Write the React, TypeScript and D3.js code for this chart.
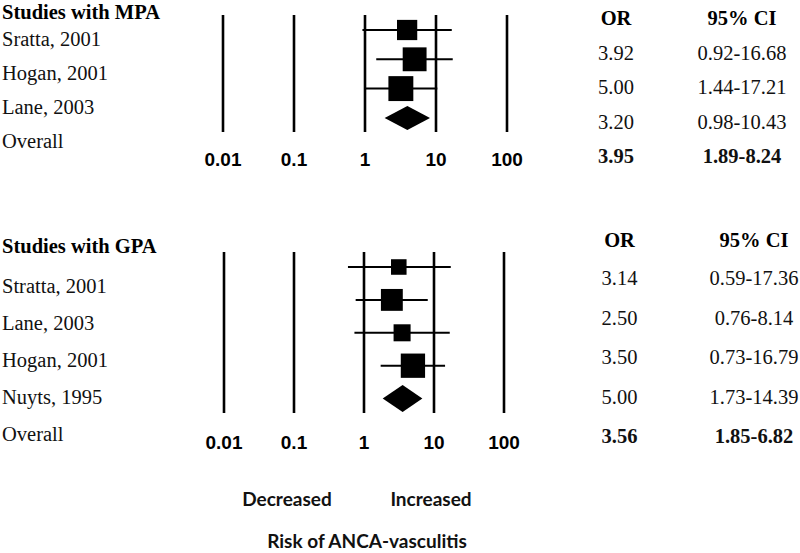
import { scaleLog, scaleSqrt, range } from "d3";

// MPA studies
const mpaStudies = ["Sratta, 2001", "Hogan, 2001", "Lane, 2003"];
const mpaOR = [3.92, 5.0, 3.2];
const mpaLow = [0.92, 1.44, 0.98];
const mpaHigh = [16.68, 17.21, 10.43];
const mpaWeight = [25.6, 35.6, 38.8];
// the table column on the right
const mpaTableOR = ["3.92", "5.00", "3.20"];
const mpaTableCI = ["0.92-16.68", "1.44-17.21", "0.98-10.43"];

// GPA studies
const gpaStudies = ["Stratta, 2001", "Lane, 2003", "Hogan, 2001", "Nuyts, 1995"];
const gpaOR = [3.14, 2.5, 3.5, 5.0];
const gpaLow = [0.59, 0.76, 0.73, 1.73];
const gpaHigh = [17.36, 8.14, 16.79, 14.39];
const gpaWeight = [15.1, 29.9, 18.1, 36.9];
const gpaTableOR = ["3.14", "2.50", "3.50", "5.00"];
const gpaTableCI = ["0.59-17.36", "0.76-8.14", "0.73-16.79", "1.73-14.39"];

// pooled estimates [MPA, GPA]
const overallOR = [3.95, 3.56];
const overallLow = [1.89, 1.85];
const overallHigh = [8.24, 6.82];
const overallText = ["3.95", "3.56"];
const overallCIText = ["1.89-8.24", "1.85-6.82"];

const tickValues = [0.01, 0.1, 1, 10, 100];
const tickLabels = ["0.01", "0.1", "1", "10", "100"];

const serif = "'Liberation Serif', 'Times New Roman', serif";
const sans = "'Liberation Sans', Arial, sans-serif";
const calibriLike = "Lato, 'Open Sans', sans-serif";

const boxSize = scaleSqrt().domain([0, 100]).range([0, 40]);

interface PanelProps {
  title: string;
  studies: string[];
  or: number[];
  low: number[];
  high: number[];
  weight: number[];
  tableOR: string[];
  tableCI: string[];
  idx: number;
  xRange: [number, number];
  lineTop: number;
  lineBottom: number;
  rowTop: number;
  rowStep: number;
  titleY: number;
  labelTop: number;
  labelStep: number;
  headY: number;
  tableTop: number;
  tableStep: number;
  orX: number;
  ciX: number;
  tickY: number;
  diamondH: number;
}

function Panel(p: PanelProps) {
  const x = scaleLog().domain([0.01, 100]).range(p.xRange);
  const n = p.studies.length;
  const rowY = (i: number) => p.rowTop + i * p.rowStep;
  const dY = rowY(n);
  const o = p.idx;
  const diamond = [
    [x(overallLow[o]), dY],
    [x(overallOR[o]), dY - p.diamondH / 2],
    [x(overallHigh[o]), dY],
    [x(overallOR[o]), dY + p.diamondH / 2]
  ]
    .map((d) => d.join(","))
    .join(" ");

  return (
    <g>
      {/* left labels */}
      <text x={2} y={p.titleY} fontFamily={serif} fontWeight="bold" fontSize={20.5}>
        {p.title}
      </text>
      {[...p.studies, "Overall"].map((s, i) => (
        <text key={s} x={2} y={p.labelTop + i * p.labelStep} fontFamily={serif} fontSize={20.5} fill="#111">
          {s}
        </text>
      ))}

      {/* reference lines */}
      {tickValues.map((t, i) => (
        <g key={t}>
          <line x1={x(t)} x2={x(t)} y1={p.lineTop} y2={p.lineBottom} stroke="#000" strokeWidth={2.6} />
          <text
            x={x(t)}
            y={p.tickY}
            textAnchor="middle"
            fontFamily={sans}
            fontWeight="bold"
            fontSize={19}
          >
            {tickLabels[i]}
          </text>
        </g>
      ))}

      {/* studies */}
      {range(n).map((i) => {
        const s = boxSize(p.weight[i]);
        return (
          <g key={i}>
            <line x1={x(p.low[i])} x2={x(p.high[i])} y1={rowY(i)} y2={rowY(i)} stroke="#000" strokeWidth={2} />
            <rect x={x(p.or[i]) - s / 2} y={rowY(i) - s / 2} width={s} height={s} fill="#000" />
          </g>
        );
      })}
      <polygon points={diamond} fill="#000" />

      {/* table */}
      <text x={p.orX} y={p.headY} textAnchor="middle" fontFamily={serif} fontWeight="bold" fontSize={20.5}>
        OR
      </text>
      <text x={p.ciX} y={p.headY} textAnchor="middle" fontFamily={serif} fontWeight="bold" fontSize={20.5}>
        95% CI
      </text>
      {range(n + 1).map((i) => {
        const bold = i === n;
        return (
          <g key={i} fontFamily={serif} fontSize={20.5} fontWeight={bold ? "bold" : "normal"} fill="#111">
            <text x={p.orX} y={p.tableTop + i * p.tableStep} textAnchor="middle">
              {bold ? overallText[o] : p.tableOR[i]}
            </text>
            <text x={p.ciX} y={p.tableTop + i * p.tableStep} textAnchor="middle">
              {bold ? overallCIText[o] : p.tableCI[i]}
            </text>
          </g>
        );
      })}
    </g>
  );
}

export default function App() {
  return (
    <div style={{ position: "absolute", left: 0, top: 0 }}>
      <svg width={800} height={553} style={{ display: "block", background: "#fff" }}>
        <Panel
          title="Studies with MPA"
          studies={mpaStudies}
          or={mpaOR}
          low={mpaLow}
          high={mpaHigh}
          weight={mpaWeight}
          tableOR={mpaTableOR}
          tableCI={mpaTableCI}
          idx={0}
          xRange={[223, 507]}
          lineTop={15}
          lineBottom={132}
          rowTop={30}
          rowStep={29.3}
          titleY={19}
          labelTop={46}
          labelStep={34}
          headY={25}
          tableTop={60}
          tableStep={34.3}
          orX={616}
          ciX={742}
          tickY={166}
          diamondH={24}
        />
        <Panel
          title="Studies with GPA"
          studies={gpaStudies}
          or={gpaOR}
          low={gpaLow}
          high={gpaHigh}
          weight={gpaWeight}
          tableOR={gpaTableOR}
          tableCI={gpaTableCI}
          idx={1}
          xRange={[224, 504]}
          lineTop={252}
          lineBottom={413}
          rowTop={267}
          rowStep={32.9}
          titleY={253}
          labelTop={293}
          labelStep={37}
          headY={247}
          tableTop={285}
          tableStep={39.5}
          orX={619.5}
          ciX={754}
          tickY={449}
          diamondH={27}
        />
        <g fontFamily={calibriLike} fontWeight="bold" fontSize={19} fill="#111" textAnchor="middle">
          <text x={287} y={506}>Decreased</text>
          <text x={431} y={506}>Increased</text>
          <text x={367} y={548}>Risk of ANCA-vasculitis</text>
        </g>
      </svg>
    </div>
  );
}
